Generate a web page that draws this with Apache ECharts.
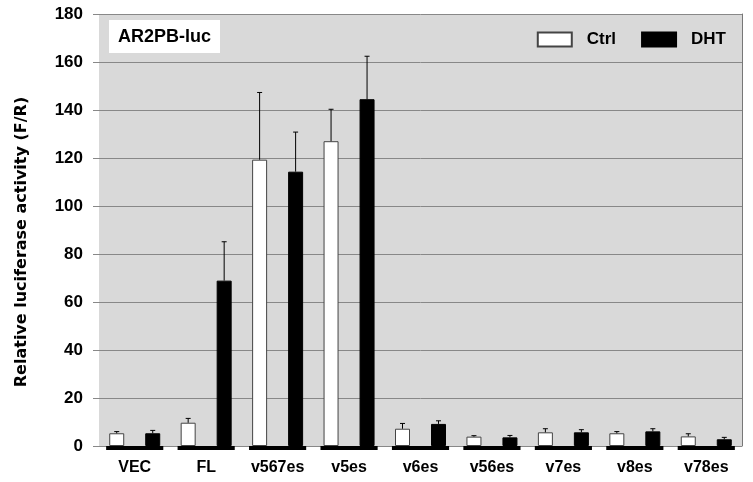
<!DOCTYPE html>
<html>
<head>
<meta charset="utf-8">
<script src="https://cdn.jsdelivr.net/npm/echarts@6/dist/echarts.min.js"></script>
<style>html,body{margin:0;padding:0;background:#fff}#c{width:753px;height:482px}</style>
</head>
<body>
<div id="c"></div>
<script>
const categories = ['VEC', 'FL', 'v567es', 'v5es', 'v6es', 'v56es', 'v7es', 'v8es', 'v78es'];
const ctrlValues = [5.3, 9.7, 119.3, 127.0, 7.2, 3.9, 5.7, 5.3, 4.0];
const ctrlErrors = [0.7, 1.8, 28.0, 13.3, 2.2, 0.4, 1.5, 0.7, 1.1];
const dhtValues = [5.3, 68.9, 114.3, 144.5, 9.2, 3.6, 5.7, 6.1, 2.8];
const dhtErrors = [1.2, 16.2, 16.5, 17.9, 1.3, 0.8, 1.1, 1.1, 0.8];
const yMin = 0, yMax = 180, yStep = 20;
const seriesNames = ['Ctrl', 'DHT'];
const chartTitle = 'AR2PB-luc';
const yAxisTitle = 'Relative luciferase activity (F/R)';

const BAR_W = 15, BAR_GAP = 1.4;
const OFFSET = BAR_W * (1 + BAR_GAP) / 2;
const FONT = 'Liberation Sans';

function errorSeries(vals, errs, dir) {
  return {
    type: 'custom',
    silent: true,
    z: 5,
    data: vals.map((v, i) => [i, v, errs[i]]),
    encode: { x: 0, y: 1 },
    renderItem: function (params, api) {
      const i = api.value(0), v = api.value(1), e = api.value(2);
      const p0 = api.coord([i, v]);
      const p1 = api.coord([i, v + e]);
      const x = p0[0] + dir * OFFSET;
      return {
        type: 'group',
        children: [
          { type: 'line', shape: { x1: x, y1: p0[1], x2: x, y2: p1[1] }, style: { stroke: '#000', lineWidth: 1 } },
          { type: 'line', shape: { x1: x - 2.5, y1: p1[1], x2: x + 2.5, y2: p1[1] }, style: { stroke: '#000', lineWidth: 1 } }
        ]
      };
    }
  };
}

const chart = echarts.init(document.getElementById('c'), null, { renderer: 'canvas' });
chart.setOption({
  animation: false,
  backgroundColor: '#fff',
  title: {
    text: chartTitle,
    left: 109, top: 20,
    backgroundColor: '#fff',
    padding: [8, 9, 7, 9],
    textStyle: { fontFamily: FONT, fontWeight: 'bold', fontSize: 18, color: '#000' }
  },
  legend: {
    data: seriesNames,
    right: 27, top: 31,
    padding: 0,
    itemWidth: 34, itemHeight: 14,
    itemGap: 25,
    icon: 'rect',
    textStyle: { fontFamily: FONT, fontWeight: 'bold', fontSize: 17, color: '#000', padding: [0, 0, 0, 10] }
  },
  grid: {
    left: 99, right: 11, top: 14, bottom: 36,
    show: true, backgroundColor: '#d9d9d9', borderWidth: 0
  },
  xAxis: {
    type: 'category',
    data: categories,
    axisLine: { show: false },
    axisTick: { show: false },
    axisLabel: { interval: 0, margin: 14, fontFamily: FONT, fontWeight: 'bold', fontSize: 16, color: '#000' }
  },
  yAxis: [{
    type: 'value',
    min: yMin, max: yMax, interval: yStep,
    axisLine: { show: false },
    axisTick: { show: true, length: 6, lineStyle: { color: '#888' } },
    splitLine: { lineStyle: { color: '#888', width: 1 } },
    axisLabel: { margin: 16, fontFamily: FONT, fontWeight: 'bold', fontSize: 17, color: '#000' }
  }, {
    type: 'value',
    position: 'right',
    min: yMin, max: yMax, interval: yStep,
    axisLine: { show: true, lineStyle: { color: '#777' } },
    axisTick: { show: false },
    axisLabel: { show: false },
    splitLine: { show: false }
  }],
  graphic: [{
    type: 'text',
    x: 22, y: 242,
    rotation: Math.PI / 2,
    style: {
      text: yAxisTitle,
      font: 'bold 16px "DejaVu Sans"',
      fill: '#000',
      textAlign: 'center',
      textVerticalAlign: 'middle'
    }
  }],
  series: [
    {
      name: seriesNames[0], type: 'bar', data: ctrlValues,
      barWidth: BAR_W, barGap: (BAR_GAP * 100) + '%',
      itemStyle: { color: '#fff', borderColor: '#444', borderWidth: 1 }
    },
    {
      name: seriesNames[1], type: 'bar', data: dhtValues,
      barWidth: BAR_W, barGap: (BAR_GAP * 100) + '%',
      itemStyle: { color: '#000', borderColor: '#000', borderWidth: 1 }
    },
    errorSeries(ctrlValues, ctrlErrors, -1),
    errorSeries(dhtValues, dhtErrors, 1),
    {
      type: 'custom',
      silent: true,
      clip: false,
      z: 6,
      data: categories.map((c, i) => [i, 0]),
      encode: { x: 0, y: 1 },
      renderItem: function (params, api) {
        const p = api.coord([api.value(0), 0]);
        const bw = api.size([1, 0])[0] * 0.8;
        return { type: 'rect', shape: { x: p[0] - bw / 2, y: p[1], width: bw, height: 4 }, style: { fill: '#000' } };
      }
    }
  ]
});
</script>
</body>
</html>
